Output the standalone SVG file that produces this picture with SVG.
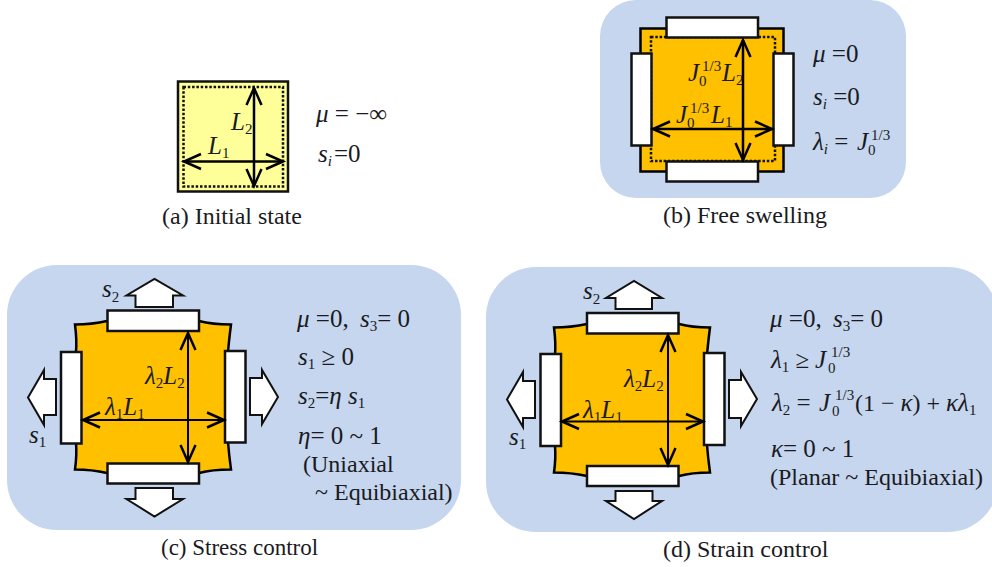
<svg xmlns="http://www.w3.org/2000/svg" width="992" height="567" viewBox="0 0 992 567">
<style>
text{font-family:"Liberation Serif","Times New Roman",serif;fill:#1a1a22;font-size:24px}
.i{font-style:italic;font-size:25px}
.s{font-size:15px;font-style:normal}
.si{font-size:15px;font-style:italic}
.n{font-style:normal}
.panel{fill:#c5d6ee}
.body{fill:#ffc000;stroke:#000;stroke-width:2.5}
.plate{fill:#fff;stroke:#111;stroke-width:2.5}
.dot{fill:none;stroke:#111;stroke-width:2.5;stroke-dasharray:2.5 1.8}
.push{fill:#fff;stroke:#111;stroke-width:2}
.dim{fill:none;stroke:#000;stroke-width:2.5;marker-start:url(#open);marker-end:url(#open)}
.thin{stroke-width:2}
</style>
<defs>
<marker id="open" viewBox="-19 -9 21 18" refX="0" refY="0" markerWidth="21" markerHeight="18" markerUnits="userSpaceOnUse" orient="auto-start-reverse" overflow="visible">
<path d="M-17 -7.5L0 0L-17 7.5" fill="none" stroke="#000" stroke-width="2.5"/>
</marker>
</defs>
<rect x="0" y="0" width="992" height="567" fill="#fff"/>

<g id="panel-b"><rect class="panel" x="600" y="0" width="306" height="198" rx="36"/></g>
<g id="panel-c"><rect class="panel" x="7" y="265" width="454" height="265" rx="50"/></g>
<g id="panel-d"><rect class="panel" x="486" y="267" width="512" height="265" rx="50"/></g>

<g id="node-a">
<rect x="178" y="81.500" width="110" height="110" fill="#ffff99" stroke="#111" stroke-width="2.5"/>
<rect class="dot" x="183.500" y="87" width="99.500" height="99.500"/>
</g>

<g id="node-b">
<rect class="body" x="640.500" y="28.500" width="143" height="143"/>
<rect class="dot" x="651" y="37" width="124" height="124"/>
<rect class="plate" x="666.500" y="17.500" width="91.500" height="20"/>
<rect class="plate" x="666.500" y="161.500" width="91.500" height="20"/>
<rect class="plate" x="631.500" y="53.500" width="20" height="92"/>
<rect class="plate" x="773.500" y="53.500" width="20" height="92"/>
</g>

<g id="node-c">
<path class="body" d="M75 324.500Q92 324.500 107 321L199 321Q212 324.500 231 324.500Q229 340 228 352L228 442Q229 455 231 469.500Q212 469.500 199 473L107 473Q92 469.500 75 469.500Q77 455 76 443L76 352Q77 340 75 324.500Z"/>
<rect class="plate" x="107.500" y="310.500" width="91.500" height="20.500"/>
<rect class="plate" x="107.500" y="463.500" width="91.500" height="20"/>
<rect class="plate" x="61" y="352" width="20.500" height="91.500"/>
<rect class="plate" x="225" y="351" width="20.500" height="91.500"/>
<path class="push" d="M135.500 307V295.500H126.500L154.500 279L183 295.500H173V307Z"/>
<path class="push" d="M135.500 488V499H126.500L154.500 516.500L183 499H173V488Z"/>
<path class="push" d="M56 379H44V370L28 397.500L44 425V415H56Z"/>
<path class="push" d="M250 378H262V370L278 397L262 424V415H250Z"/>
</g>

<g id="node-d">
<path class="body" d="M554 327.500Q571 327.500 587 324L679 324Q692 327.500 710 327.500Q708 343 707 355L707 445Q708 458 710 472.500Q692 472.500 679 476L587 476Q571 472.500 554 472.500Q556 458 555 446L555 355Q556 343 554 327.500Z"/>
<rect class="plate" x="587" y="313" width="91.500" height="20.500"/>
<rect class="plate" x="587" y="466" width="91.500" height="20"/>
<rect class="plate" x="540.500" y="354" width="20.500" height="92"/>
<rect class="plate" x="704" y="353" width="20.500" height="92"/>
<path class="push" d="M615.500 309V298H606L634 281L662 298H652V309Z"/>
<path class="push" d="M615.500 491V501H606L634 519L662 501H652.500V491Z"/>
<path class="push" d="M535 381H523V372L507 399.500L523 427V418H535Z"/>
<path class="push" d="M729 380H741V372L757 399L741 426V418H729Z"/>
</g>

<g id="connectors">
<path class="dim" d="M184 161.500H283"/>
<path class="dim" d="M254 88V186"/>
<path class="dim" d="M653 129H772"/>
<path class="dim" d="M743 40V160"/>
<path class="dim thin" d="M83 420H224"/>
<path class="dim thin" d="M188 333V462"/>
<path class="dim thin" d="M562 421.500H703"/>
<path class="dim thin" d="M668 335V465"/>
</g>

<g id="labels">
<text x="231" y="130" class="i">L<tspan class="s" dy="4">2</tspan></text>
<text x="208" y="154" class="i">L<tspan class="s" dy="4">1</tspan></text>
<text x="316" y="122" class="i">μ<tspan class="n"> = −∞</tspan></text>
<text x="318" y="162" class="i">s<tspan class="si" dy="4">i</tspan><tspan class="n" dy="-4" dx="2">=0</tspan></text>
<text x="162" y="224">(a) Initial state</text>

<text x="688" y="81" class="i">J</text><text x="699" y="86" class="s">0</text><text x="702" y="71" class="s">1/3</text><text x="722" y="81" class="i">L<tspan class="s" dy="4">2</tspan></text>
<text x="676" y="123" class="i">J</text><text x="687" y="128" class="s">0</text><text x="690" y="113" class="s">1/3</text><text x="711" y="123" class="i">L<tspan class="s" dy="4">1</tspan></text>
<text x="813" y="62" class="i">μ<tspan class="n"> =0</tspan></text>
<text x="813" y="105" class="i">s<tspan class="si" dy="4">i</tspan><tspan class="n" dy="-4"> =0</tspan></text>
<text x="813" y="150" class="i">λ<tspan class="si" dy="4">i</tspan><tspan class="n" dy="-4"> =</tspan></text><text x="857" y="150" class="i">J</text><text x="868" y="155" class="s">0</text><text x="871" y="140" class="s">1/3</text>
<text x="663" y="223">(b) Free swelling</text>

<text x="102" y="297" class="i">s<tspan class="s" dy="5">2</tspan></text>
<text x="29" y="443" class="i">s<tspan class="s" dy="4">1</tspan></text>
<text x="145" y="384" class="i">λ<tspan class="s" dy="4">2</tspan><tspan dy="-4">L</tspan><tspan class="s" dy="4">2</tspan></text>
<text x="105" y="415" class="i">λ<tspan class="s" dy="4">1</tspan><tspan dy="-4">L</tspan><tspan class="s" dy="4">1</tspan></text>
<text x="297" y="327" class="i">μ<tspan class="n"> =0,</tspan></text><text x="360" y="327" class="i">s<tspan class="s" dy="4">3</tspan><tspan class="n" dy="-4">= 0</tspan></text>
<text x="298" y="365" class="i">s<tspan class="s" dy="4">1</tspan><tspan class="n" dy="-4"> ≥ 0</tspan></text>
<text x="298" y="404" class="i">s<tspan class="s" dy="4">2</tspan><tspan class="n" dy="-4">=</tspan><tspan>η s</tspan><tspan class="s" dy="4">1</tspan></text>
<text x="298" y="444" class="i">η<tspan class="n">= 0 ~ 1</tspan></text>
<text x="303" y="472">(Uniaxial</text>
<text x="315" y="500">~ Equibiaxial)</text>
<text x="161" y="555" style="font-size:23px">(c) Stress control</text>

<text x="583" y="299" class="i">s<tspan class="s" dy="5">2</tspan></text>
<text x="509" y="445" class="i">s<tspan class="s" dy="4">1</tspan></text>
<text x="624" y="387" class="i">λ<tspan class="s" dy="4">2</tspan><tspan dy="-4">L</tspan><tspan class="s" dy="4">2</tspan></text>
<text x="583" y="418" class="i">λ<tspan class="s" dy="4">1</tspan><tspan dy="-4">L</tspan><tspan class="s" dy="4">1</tspan></text>
<text x="770" y="327" class="i">μ<tspan class="n"> =0,</tspan></text><text x="833" y="327" class="i">s<tspan class="s" dy="4">3</tspan><tspan class="n" dy="-4">= 0</tspan></text>
<text x="771" y="368" class="i">λ<tspan class="s" dy="4">1</tspan><tspan class="n" dy="-4"> ≥</tspan></text><text x="815" y="368" class="i">J</text><text x="828" y="373" class="s">0</text><text x="831" y="357" class="s">1/3</text>
<text x="772" y="411" class="i">λ<tspan class="s" dy="4">2</tspan><tspan class="n" dy="-4"> =</tspan></text><text x="819" y="411" class="i">J</text><text x="832" y="416" class="s">0</text><text x="835" y="400" class="s">1/3</text><text x="855" y="411">(1 − <tspan class="i">κ</tspan>) + <tspan class="i">κλ</tspan><tspan class="s" dy="4">1</tspan></text>
<text x="771" y="457" class="i">κ<tspan class="n">= 0 ~ 1</tspan></text>
<text x="770" y="485">(Planar ~ Equibiaxial)</text>
<text x="663" y="557">(d) Strain control</text>
</g>
</svg>
